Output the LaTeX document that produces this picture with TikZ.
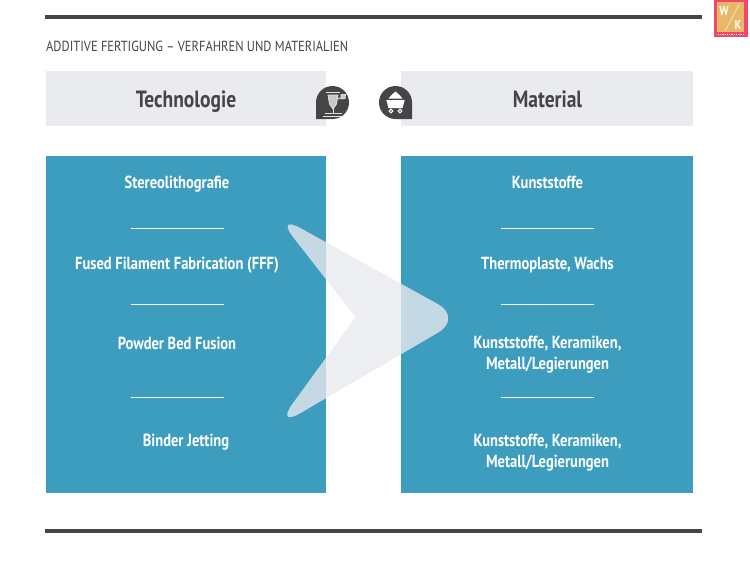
\documentclass[tikz,border=0pt]{standalone}
\usepackage{fontspec}
\setmainfont{Fira Sans}
\newfontfamily\condb[FakeStretch=0.83]{PT Sans Bold}
\newfontfamily\condr[FakeStretch=0.853]{PT Sans}
\definecolor{bluebox}{HTML}{3C9DBE}
\definecolor{greybox}{HTML}{E9EBEE}
\definecolor{darkline}{HTML}{454547}
\definecolor{arrowfill}{HTML}{E9EAEF}
\definecolor{logopink}{HTML}{F0476B}
\definecolor{logogold}{HTML}{E8B768}
\tikzset{
  rulebar/.style={draw=darkline,line width=3.4pt},
  headbox/.style={fill=greybox,draw=none},
  panel/.style={fill=bluebox,draw=none},
  sep/.style={draw=white,line width=0.9pt},
  item/.style={text=white,font=\condb\fontsize{17.5}{21}\selectfont,align=center,inner sep=0pt},
  oneline/.style={item,anchor=base},
  headtext/.style={text=darkline,font=\condb\fontsize{23.5}{24}\selectfont,inner sep=0pt,anchor=base},
  iconbg/.style={fill=darkline,draw=none},
  iconline/.style={draw=white!85!darkline,line width=0.8pt},
}
\begin{document}
\begin{tikzpicture}[x=1pt,y=-1pt]
\useasboundingbox (0,0) rectangle (750,562);
\fill[white] (0,0) rectangle (750,562);
% rules
\draw[rulebar] (45,17) -- (702,17);
\draw[rulebar] (45,531) -- (702,531);
% title
\node[anchor=west,inner sep=0pt,text=darkline,font=\condr\fontsize{14.6}{16}\selectfont] (title) at (46,46) {ADDITIVE FERTIGUNG – VERFAHREN UND MATERIALIEN};
% headers
\fill[headbox] (46,71) rectangle (326,126);
\fill[headbox] (401,71) rectangle (693,126);
\node[headtext] (hl) at (186,107.5) {Technologie};
\node[headtext] (hr) at (547.5,107.5) {Material};
% panels
\fill[panel] (46,156) rectangle (326,492.5);
\fill[panel] (401,156) rectangle (693,492.5);
% items left
\node[oneline] (l1) at (177,188) {Stereolithografie};
\node[oneline] (l2) at (177,269) {Fused Filament Fabrication (FFF)};
\node[oneline] (l3) at (177,349) {Powder Bed Fusion};
\node[oneline] (l4) at (186,446) {Binder Jetting};
% items right
\node[oneline] (r1) at (547.5,188) {Kunststoffe};
\node[oneline] (r2) at (547.5,269) {Thermoplaste, Wachs};
\node[item] (r3) at (547.5,355) {Kunststoffe, Keramiken,\\Metall/Legierungen};
\node[item] (r4) at (547.5,453) {Kunststoffe, Keramiken,\\Metall/Legierungen};
% separators
\foreach \yy in {228,304,397}{
  \draw[sep] (130.5,\yy) -- (223.5,\yy);
  \draw[sep] (501,\yy) -- (594,\yy);
}
% big arrow
\fill[arrowfill,opacity=.79]
  (355.5,317) [rounded corners=30pt] -- (275,214) [rounded corners=29pt] -- (463,318) [rounded corners=30pt] -- (275,428) [sharp corners] -- cycle;
% left icon: round badge with bottom-left corner
\fill[iconbg] (316,119) -- (316,102.5) arc[start angle=180,end angle=450,radius=16.5] -- cycle;
\begin{scope}[iconline]
  \draw[line width=1.4pt] (325,113.5) -- (342,113.5);
  \draw[line width=.7pt] (323,116) -- (344,116);
  \draw (333,113) -- (333,109);
  \draw[fill=white!70!darkline] (328,95) -- (338,95) -- (336.5,104) -- (333,109) -- (329.5,104) -- cycle;
  \draw (326,92) -- (340,92);
  \draw (338,99) -- (342,97);
  \draw[fill=white!70!darkline] (341,94.5) -- (345.5,94.5) -- (345,98.5) -- (341,99) -- cycle;
\end{scope}
% right icon: round badge with bottom-right corner
\fill[iconbg] (412,119) -- (395.5,119) arc[start angle=90,end angle=360,radius=16.5] -- cycle;
\fill[white] (386,99) -- (405,99) -- (402.5,108) -- (388.5,108) -- cycle;
\fill[white] (388.5,98.5) -- (392,94.5) -- (395.5,91.5) -- (399,94.5) -- (402.5,98.5) -- cycle;
\fill[darkline] (385,99) rectangle (406,100);
\draw[white,line width=1pt,fill=darkline] (391,111) circle[radius=1.9];
\draw[white,line width=1pt,fill=darkline] (400,111) circle[radius=1.9];
% logo
\fill[logopink] (714,0) rectangle (748,37);
\fill[logogold] (717,2) rectangle (744,32);
\draw[white!70!logogold,line width=.7pt] (725,31) -- (740,3);
\node[inner sep=0pt,text=white,font=\condb\fontsize{13}{13}\selectfont] (logow) at (724,10.5) {W};
\node[inner sep=0pt,text=white,font=\condb\fontsize{13}{13}\selectfont] (logok) at (738,25) {K};
\draw[white,line width=.9pt,dash pattern=on .9pt off .9pt] (718,34.5) -- (744,34.5);
\end{tikzpicture}
\end{document}
